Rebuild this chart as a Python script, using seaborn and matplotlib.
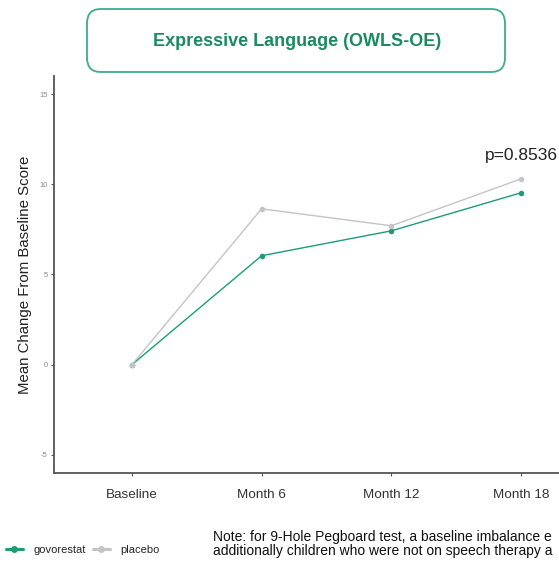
import matplotlib
matplotlib.use("Agg")
import matplotlib.pyplot as plt
import seaborn as sns
import pandas as pd
from matplotlib.patches import FancyBboxPatch

visits = ["Baseline", "Month 6", "Month 12", "Month 18"]
govorestat = [0.0, 6.04, 7.42, 9.53]
placebo = [0.0, 8.64, 7.70, 10.30]
groups = ["govorestat", "placebo"]
colors = {"govorestat": "#1B9E77", "placebo": "#C4C4C4"}
yticks = [-5, 0, 5, 10, 15]
title = "Expressive Language (OWLS-OE)"
pval = "p=0.8536"
note_lines = ["Note: for 9-Hole Pegboard test, a baseline imbalance e",
              "additionally children who were not on speech therapy a"]

df = pd.DataFrame({
    "visit": visits * 2,
    "value": govorestat + placebo,
    "group": [groups[0]] * len(visits) + [groups[1]] * len(visits),
})
df["x"] = df["visit"].map({v: i for i, v in enumerate(visits)})

sns.set_theme(style="white")
plt.rcParams["font.family"] = ["Liberation Sans", "DejaVu Sans"]

fig = plt.figure(figsize=(5.59, 5.68), dpi=100)
ax = fig.add_axes([54 / 559, 1 - 473 / 568, (599 - 54) / 559, (473 - 76) / 568])

sns.lineplot(data=df, x="x", y="value", hue="group", hue_order=groups,
             palette=colors, marker="o", markersize=4, markeredgewidth=0,
             linewidth=1.0, ax=ax, sort=False)

ax.set_xlim(-0.6, 3.6)
ax.set_ylim(-6, 16)
ax.set_xticks(range(len(visits)))
ax.set_xticklabels(visits, fontsize=9.7, color="#333333")
ax.set_yticks(yticks)
ax.set_yticklabels([str(t) for t in yticks], fontsize=5.5, color="#888888")
ax.tick_params(axis="both", length=2.5, width=0.8, color="#555555", pad=2,
               bottom=True, left=True)
ax.tick_params(axis="x", pad=9)
ax.set_xlabel("")
ax.set_ylabel("Mean Change From Baseline Score", fontsize=10.8, color="#222222", labelpad=5)
for s in ["top", "right"]:
    ax.spines[s].set_visible(False)
for s in ["left", "bottom"]:
    ax.spines[s].set_color("#555555")
    ax.spines[s].set_linewidth(1.3)

ax.text(3.0, 11.6, pval, fontsize=12.5, color="#222222", ha="center", va="center")

sns.move_legend(ax, loc="center left", bbox_to_anchor=(0.005, 1 - 550 / 568),
                bbox_transform=fig.transFigure, ncol=2, frameon=False, title=None,
                fontsize=8, handlelength=1.5, handletextpad=1.0, columnspacing=0.6,
                borderaxespad=0, borderpad=0.3)
for h in ax.get_legend().legend_handles:
    h.set_linewidth(2.2)
    h.set_markersize(5)

box = FancyBboxPatch((87 / 559, 1 - 72 / 568), (505 - 87) / 559, (72 - 9) / 568,
                     boxstyle="round,pad=0,rounding_size=0.025",
                     transform=fig.transFigure, facecolor="white",
                     edgecolor="#1B9E77", linewidth=1.3, alpha=0.85)
fig.patches.append(box)
fig.text(297 / 559, 1 - 42 / 568, title, fontsize=13, fontweight="bold",
         color="#1B8A63", ha="center", va="center")

fig.text(213 / 559, 1 - 537 / 568, note_lines[0], fontsize=10, color="#111111",
         ha="left", va="center")
fig.text(213 / 559, 1 - 551 / 568, note_lines[1], fontsize=10, color="#111111",
         ha="left", va="center")

fig.savefig("out.png", dpi=100)
